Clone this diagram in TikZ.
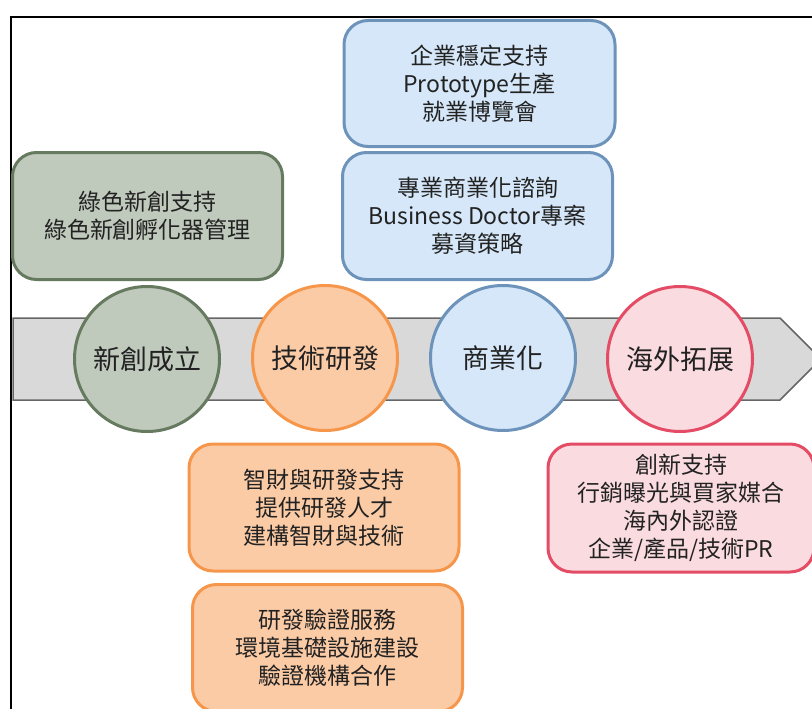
\documentclass[tikz,border=0pt]{standalone}
\usepackage{fontspec}
\newfontfamily\cjk{Noto Sans CJK TC}
\definecolor{gfill}{HTML}{BFCABC}
\definecolor{gline}{HTML}{667A60}
\definecolor{bfill}{HTML}{D5E7F8}
\definecolor{bline}{HTML}{6D93BA}
\definecolor{ofill}{HTML}{FBCBA6}
\definecolor{oline}{HTML}{F6964A}
\definecolor{pfill}{HTML}{FADBE0}
\definecolor{pline}{HTML}{E44C66}
\definecolor{afill}{HTML}{D9D9D9}
\definecolor{aline}{HTML}{666666}
\definecolor{txt}{HTML}{222222}
\tikzset{
  box/.style={draw, line width=3pt, rounded corners=24pt, align=center, text=txt,
    font=\cjk\fontsize{23}{28}\selectfont, inner sep=0pt},
  stage/.style={circle, draw, line width=3pt, minimum size=145pt, inner sep=0pt,
    text=txt, font=\cjk\fontsize{27}{30}\selectfont},
}
\begin{document}
\begin{tikzpicture}[x=1pt,y=-1pt]
\useasboundingbox (0,0) rectangle (812,709);
\clip (0,0) rectangle (812,709);
\coordinate (fa) at (11,720);
\coordinate (fb) at (11,17);
\coordinate (fc) at (830,17);
\draw[line width=2pt] (fa) -- (fb) -- (fc);
\coordinate (a1) at (13,318);
\coordinate (a2) at (780,318);
\coordinate (a3) at (821,359);
\coordinate (a4) at (780,400);
\coordinate (a5) at (13,400);
\draw[fill=afill, draw=aline, line width=1.5pt] (a1) -- (a2) -- (a3) -- (a4) -- (a5) -- cycle;
\node[stage, fill=gfill, draw=gline] (s1) at (147,359) {新創成立};
\node[stage, fill=ofill, draw=oline] (s2) at (325,358) {技術研發};
\node[stage, fill=bfill, draw=bline] (s3) at (503,358) {商業化};
\node[stage, fill=pfill, draw=pline] (s4) at (680,359) {海外拓展};
\node[box, fill=gfill, draw=gline, minimum width=270pt, minimum height=127pt] (g1) at (147.5,216) {綠色新創支持\\綠色新創孵化器管理};
\node[box, fill=bfill, draw=bline, minimum width=271pt, minimum height=126pt] (b1) at (479.5,83.5) {企業穩定支持\\Prototype生產\\就業博覽會};
\node[box, fill=bfill, draw=bline, minimum width=270pt, minimum height=127pt] (b2) at (477.5,216) {專業商業化諮詢\\Business Doctor專案\\募資策略};
\node[box, fill=ofill, draw=oline, minimum width=270pt, minimum height=127pt] (o1) at (324,507.5) {智財與研發支持\\提供研發人才\\建構智財與技術};
\node[box, fill=ofill, draw=oline, minimum width=270pt, minimum height=127pt] (o2) at (327.5,648) {研發驗證服務\\環境基礎設施建設\\驗證機構合作};
\node[box, fill=pfill, draw=pline, minimum width=266pt, minimum height=128pt] (p1) at (681,508) {創新支持\\行銷曝光與買家媒合\\海內外認證\\企業/產品/技術PR};
\end{tikzpicture}
\end{document}
